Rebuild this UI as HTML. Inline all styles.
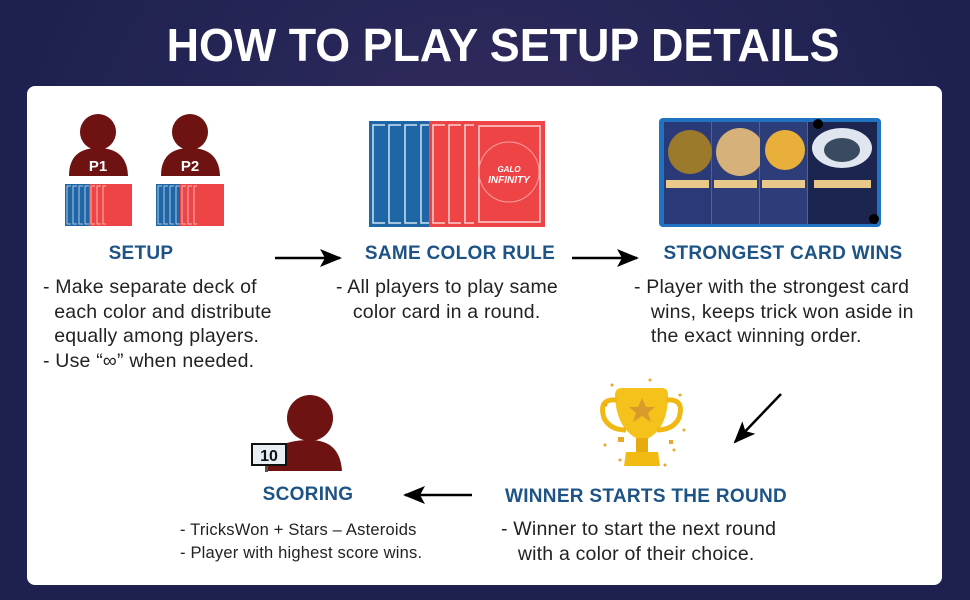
<!DOCTYPE html>
<html><head><meta charset="utf-8"><style>
*{margin:0;padding:0;box-sizing:border-box}
body{width:970px;height:600px;overflow:hidden;position:relative;font-family:"Liberation Sans",sans-serif;
background:radial-gradient(ellipse at 50% 30%,#352a5e 0%,#262657 35%,#1e2150 70%);}
.title{position:absolute;left:18px;top:22px;width:970px;text-align:center;color:#fff;font-weight:bold;font-size:46px;line-height:46px;}
.title span{display:inline-block;transform:scaleX(0.975);white-space:nowrap}
.panel{position:absolute;left:27px;top:86px;width:915px;height:499px;background:#fff;border-radius:8px}
.h{position:absolute;color:#1d5385;font-weight:bold;font-size:19px;text-align:center;white-space:nowrap;letter-spacing:0.3px}
.t{position:absolute;color:#222;font-size:19.5px;letter-spacing:0.2px;line-height:24.5px;white-space:nowrap}
svg{position:absolute;left:0;top:0}
</style></head><body>
<div class="title"><span>HOW TO PLAY SETUP DETAILS</span></div>
<div class="panel"></div>
<svg width="970" height="600" viewBox="0 0 970 600">
<defs>
<marker id="ah" markerWidth="22" markerHeight="18" refX="20" refY="9" orient="auto" markerUnits="userSpaceOnUse"><path d="M0,0 L22,9 L0,18 L5,9z" fill="#000"/></marker>
<g id="blue"><rect width="60" height="106" fill="#1f66a6"/><rect x="4" y="4" width="52" height="98" fill="none" stroke="#cfe0f0" stroke-width="1.5"/></g>
<g id="red"><rect width="60" height="106" fill="#ee4446"/><rect x="4" y="4" width="52" height="98" fill="none" stroke="#fbd0d0" stroke-width="1.5"/></g>
<g id="sblue"><rect width="21" height="42" fill="#1f66a6"/><rect x="2" y="2" width="17" height="38" fill="none" stroke="#cfe0f0" stroke-width="0.8"/></g>
<g id="sred"><rect width="21" height="42" fill="#ee4446"/><rect x="2" y="2" width="17" height="38" fill="none" stroke="#fbd0d0" stroke-width="0.8"/></g>
</defs>
<g fill="#6e1212">
<circle cx="98" cy="132" r="18"/><path d="M69,176 Q69,148 98,148 Q127,148 128,176z"/>
<circle cx="190" cy="132" r="18"/><path d="M161,176 Q161,148 190,148 Q219,148 220,176z"/>
<circle cx="310" cy="418" r="23"/><path d="M265,471 Q266,440 310,440 Q340,440 342,471z"/>
</g>
<text x="98" y="171" fill="#fff" font-weight="bold" font-size="15" text-anchor="middle">P1</text>
<text x="190" y="171" fill="#fff" font-weight="bold" font-size="15" text-anchor="middle">P2</text>
<use href="#sblue" x="65" y="184"/><use href="#sblue" x="71" y="184"/><use href="#sblue" x="77" y="184"/><use href="#sblue" x="83" y="184"/>
<use href="#sred" x="89" y="184"/><use href="#sred" x="95" y="184"/><use href="#sred" x="101" y="184"/>
<rect x="106" y="184" width="26" height="42" fill="#ee4446"/>
<use href="#sblue" x="156" y="184"/><use href="#sblue" x="162" y="184"/><use href="#sblue" x="168" y="184"/><use href="#sblue" x="174" y="184"/>
<use href="#sred" x="180" y="184"/><use href="#sred" x="186" y="184"/><use href="#sred" x="192" y="184"/>
<rect x="197" y="184" width="27" height="42" fill="#ee4446"/>
<use href="#blue" x="369" y="121"/><use href="#blue" x="385" y="121"/><use href="#blue" x="401" y="121"/><use href="#blue" x="417" y="121"/>
<use href="#red" x="429" y="121"/><use href="#red" x="445" y="121"/><use href="#red" x="461" y="121"/>
<rect x="474" y="121" width="71" height="106" fill="#ee4446"/><rect x="479" y="126" width="61" height="96" fill="none" stroke="#fbd0d0" stroke-width="1.5"/>
<circle cx="509" cy="172" r="30" fill="none" stroke="#f8a0a0" stroke-width="1"/>
<text x="509" y="172" fill="#fff" font-weight="bold" font-style="italic" font-size="8" text-anchor="middle">GALO</text>
<text x="509" y="183" fill="#fff" font-weight="bold" font-style="italic" font-size="10" text-anchor="middle">INFINITY</text>
<rect x="659" y="118" width="222" height="109" rx="4" fill="#1f73c0"/>
<rect x="664" y="122" width="47" height="102" fill="#2a3a78"/><circle cx="690" cy="152" r="22" fill="#9c7a2c"/>
<rect x="712" y="122" width="47" height="102" fill="#2d3d7a"/><circle cx="740" cy="152" r="24" fill="#d6b27a"/>
<rect x="760" y="122" width="47" height="102" fill="#2d3d7a"/><circle cx="785" cy="150" r="20" fill="#e8b03a"/>
<rect x="808" y="122" width="69" height="102" fill="#1c2550"/><ellipse cx="842" cy="148" rx="30" ry="20" fill="#dfe6ef"/><ellipse cx="842" cy="150" rx="18" ry="12" fill="#3a4a60"/>
<rect x="666" y="180" width="43" height="8" fill="#e9c98a"/><rect x="714" y="180" width="43" height="8" fill="#e9c98a"/><rect x="762" y="180" width="43" height="8" fill="#e9c98a"/><rect x="814" y="180" width="57" height="8" fill="#e9c98a"/>
<circle cx="874" cy="219" r="5" fill="#000"/><circle cx="818" cy="124" r="5" fill="#000"/>
<g>
<path d="M615,395 Q615,388 622,388 L662,388 Q668,388 668,395 Q668,430 645,440 L640,440 Q616,430 615,395z" fill="#f5c21b"/>
<path d="M617,400 Q598,398 604,418 Q610,430 626,430" fill="none" stroke="#f0b812" stroke-width="5"/>
<path d="M666,400 Q685,398 679,418 Q673,430 657,430" fill="none" stroke="#f0b812" stroke-width="5"/>
<rect x="636" y="438" width="12" height="14" fill="#e6a90e"/>
<path d="M624,466 L626,452 L658,452 L660,466z" fill="#f2bb14"/>
<polygon points="642,398 646,407 655,407 648,413 651,422 642,416 633,422 636,413 629,407 638,407" fill="#d99a2c"/>
<g fill="#e9a62a"><circle cx="606" cy="405" r="1.5"/><circle cx="612" cy="385" r="1.5"/><circle cx="680" cy="395" r="1.5"/><circle cx="684" cy="430" r="1.5"/><circle cx="674" cy="450" r="1.5"/><circle cx="605" cy="445" r="1.5"/><circle cx="620" cy="460" r="1.5"/><circle cx="665" cy="465" r="1.5"/><circle cx="650" cy="380" r="1.5"/><rect x="618" y="437" width="6" height="5"/><rect x="669" y="440" width="4" height="4"/></g>
</g>
<rect x="265" y="464" width="3" height="8" fill="#555"/>
<rect x="252" y="444" width="34" height="21" fill="#e9eef6" stroke="#111" stroke-width="2"/>
<text x="269" y="461" fill="#111" font-weight="bold" font-size="16" text-anchor="middle">10</text>
<g stroke="#000" stroke-width="2.5" fill="none">
<line x1="275" y1="258" x2="340" y2="258" marker-end="url(#ah)"/>
<line x1="572" y1="258" x2="637" y2="258" marker-end="url(#ah)"/>
<line x1="781" y1="394" x2="735" y2="442" marker-end="url(#ah)"/>
<line x1="472" y1="495" x2="405" y2="495" marker-end="url(#ah)"/>
</g>
</svg>
<div class="h" style="left:41px;width:200px;top:243px">SETUP</div>
<div class="h" style="left:340px;width:240px;top:243px">SAME COLOR RULE</div>
<div class="h" style="left:643px;width:280px;top:243px">STRONGEST CARD WINS</div>
<div class="h" style="left:208px;width:200px;top:484px">SCORING</div>
<div class="h" style="left:496px;width:300px;top:486px">WINNER STARTS THE ROUND</div>
<div class="t" style="left:43px;top:275px">- Make separate deck of<br>&nbsp;&nbsp;each color and distribute<br>&nbsp;&nbsp;equally among players.<br>- Use “∞” when needed.</div>
<div class="t" style="left:336px;top:275px">- All players to play same<br>&nbsp;&nbsp;&nbsp;color card in a round.</div>
<div class="t" style="left:634px;top:275px">- Player with the strongest card<br>&nbsp;&nbsp;&nbsp;wins, keeps trick won aside in<br>&nbsp;&nbsp;&nbsp;the exact winning order.</div>
<div class="t" style="left:180px;top:519px;font-size:16.5px;line-height:23px">- TricksWon + Stars – Asteroids<br>- Player with highest score wins.</div>
<div class="t" style="left:501px;top:517px">- Winner to start the next round<br>&nbsp;&nbsp;&nbsp;with a color of their choice.</div>
</body></html>
